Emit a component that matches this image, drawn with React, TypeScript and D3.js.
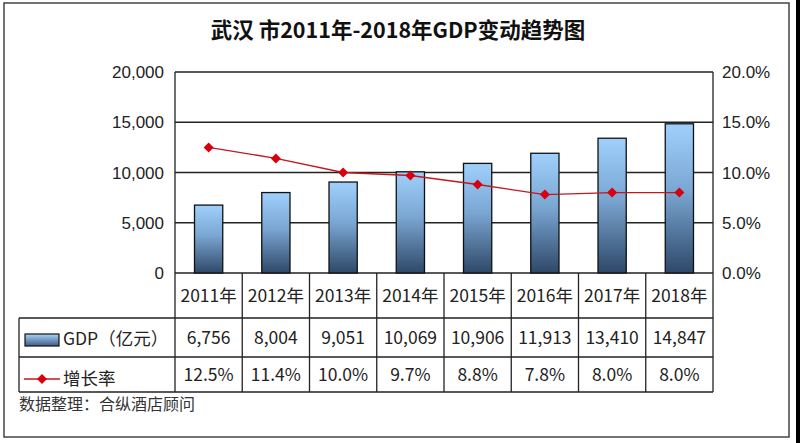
import React from "react";
import * as d3 from "d3";

const years = ["2011年", "2012年", "2013年", "2014年", "2015年", "2016年", "2017年", "2018年"];
const gdp = [6756, 8004, 9051, 10069, 10906, 11913, 13410, 14847];
const growth = [12.5, 11.4, 10.0, 9.7, 8.8, 7.8, 8.0, 8.0];
const leftTicks = [0, 5000, 10000, 15000, 20000];
const rightTicks = [0, 5, 10, 15, 20];
const title = "武汉 市2011年-2018年GDP变动趋势图";
const source = "数据整理：合纵酒店顾问";
const gdpLabel = "GDP（亿元）";
const growthLabel = "增长率";

const W = 800;
const H = 443;
const plotL = 175;
const plotR = 713;
const plotT = 72;
const plotB = 273;
const row1B = 318;
const row2B = 357;
const row3B = 392;
const tableL = 19;

export default function App() {
  const x = d3.scaleBand<string>().domain(years).range([plotL, plotR]).paddingInner(0.58).paddingOuter(0.29);
  const xc = d3.scaleBand<string>().domain(years).range([plotL, plotR]);
  const yL = d3.scaleLinear().domain([0, 20000]).range([plotB, plotT]);
  const yR = d3.scaleLinear().domain([0, 20]).range([plotB, plotT]);
  const fmtN = d3.format(",");
  const line = d3
    .line<number>()
    .x((_, i) => (xc(years[i]) as number) + xc.bandwidth() / 2)
    .y((d) => yR(d));
  const tableFont = "'Noto Sans CJK SC', 'Open Sans', sans-serif";
  const axisFont = "'Liberation Sans', Arial, sans-serif";
  const diamond = (cx: number, cy: number, r: number) =>
    `M${cx},${cy - r}L${cx + r},${cy}L${cx},${cy + r}L${cx - r},${cy}Z`;
  const tfs = 17.5;

  return (
    <svg width={W} height={H} style={{ position: "absolute", left: 0, top: 0, background: "#fff" }}>
      <defs>
        <linearGradient id="barGrad" x1="0" y1="0" x2="0" y2="1">
          <stop offset="0" stopColor="#9fd0fb" />
          <stop offset="0.45" stopColor="#7aa6d2" />
          <stop offset="1" stopColor="#2e4868" />
        </linearGradient>
        <linearGradient id="legGrad" x1="0" y1="0" x2="0" y2="1">
          <stop offset="0" stopColor="#a9d3fb" />
          <stop offset="1" stopColor="#3d5d85" />
        </linearGradient>
      </defs>
      <rect x={0} y={0} width={W} height={H} fill="#fff" />
      <rect x={4} y={3} width={785} height={434} fill="#fff" stroke="#444" strokeWidth={1.5} />
      <rect x={796} y={0} width={4} height={H} fill="#000" />

      <text x={398} y={38} textAnchor="middle" fontFamily={tableFont} fontWeight="bold" fontSize={21.5} fill="#111">
        {title}
      </text>

      {/* gridlines */}
      {leftTicks.map((t) => (
        <line key={t} x1={plotL} x2={plotR} y1={yL(t)} y2={yL(t)} stroke="#222" strokeWidth={1.3} />
      ))}
      <line x1={plotL} x2={plotL} y1={plotT} y2={plotB} stroke="#222" strokeWidth={1.3} />
      <line x1={plotR} x2={plotR} y1={plotT} y2={plotB} stroke="#222" strokeWidth={1.3} />

      {/* axis labels */}
      {leftTicks.map((t) => (
        <text key={t} x={164} y={yL(t) + 6} textAnchor="end" fontFamily={axisFont} fontSize={17} fill="#222">
          {fmtN(t)}
        </text>
      ))}
      {rightTicks.map((t) => (
        <text key={t} x={722} y={yR(t) + 6} textAnchor="start" fontFamily={axisFont} fontSize={17} fill="#222">
          {t.toFixed(1) + "%"}
        </text>
      ))}

      {/* bars */}
      {gdp.map((v, i) => (
        <rect
          key={i}
          x={x(years[i])}
          y={yL(v)}
          width={x.bandwidth()}
          height={plotB - yL(v)}
          fill="url(#barGrad)"
          stroke="#111"
          strokeWidth={1.3}
        />
      ))}

      {/* growth line */}
      <path d={line(growth) || ""} fill="none" stroke="#c01820" strokeWidth={1.4} />
      {growth.map((g, i) => (
        <path key={i} d={diamond((xc(years[i]) as number) + xc.bandwidth() / 2, yR(g), 5)} fill="#d8000f" />
      ))}

      {/* table */}
      <line x1={plotL} x2={plotL} y1={plotB} y2={row3B} stroke="#222" strokeWidth={1.3} />
      <line x1={tableL} x2={plotR} y1={row1B} y2={row1B} stroke="#222" strokeWidth={1.3} />
      <line x1={tableL} x2={plotR} y1={row2B} y2={row2B} stroke="#222" strokeWidth={1.3} />
      <line x1={tableL} x2={plotR} y1={row3B} y2={row3B} stroke="#222" strokeWidth={1.3} />
      <line x1={tableL} x2={tableL} y1={row1B} y2={row3B} stroke="#222" strokeWidth={1.3} />
      {years.map((yr) => (
        <line
          key={yr}
          x1={(xc(yr) as number) + xc.bandwidth()}
          x2={(xc(yr) as number) + xc.bandwidth()}
          y1={plotB}
          y2={row3B}
          stroke="#222"
          strokeWidth={1.3}
        />
      ))}
      {years.map((yr) => (
        <text
          key={yr}
          x={(xc(yr) as number) + xc.bandwidth() / 2}
          y={(plotB + row1B) / 2 + 6.5}
          textAnchor="middle"
          fontFamily={tableFont}
          fontSize={tfs}
          fill="#222"
        >
          {yr}
        </text>
      ))}
      {gdp.map((v, i) => (
        <text
          key={i}
          x={(xc(years[i]) as number) + xc.bandwidth() / 2}
          y={(row1B + row2B) / 2 + 6.5}
          textAnchor="middle"
          fontFamily={tableFont}
          fontSize={tfs}
          fill="#222"
        >
          {fmtN(v)}
        </text>
      ))}
      {growth.map((g, i) => (
        <text
          key={i}
          x={(xc(years[i]) as number) + xc.bandwidth() / 2}
          y={(row2B + row3B) / 2 + 6.5}
          textAnchor="middle"
          fontFamily={tableFont}
          fontSize={tfs}
          fill="#222"
        >
          {g.toFixed(1) + "%"}
        </text>
      ))}

      {/* legend in table */}
      <rect x={25} y={334} width={34} height={12} fill="url(#legGrad)" stroke="#111" strokeWidth={1.2} />
      <text x={63} y={345} fontFamily={tableFont} fontSize={tfs} fill="#222">
        {gdpLabel}
      </text>
      <line x1={24} x2={60} y1={379} y2={379} stroke="#c01820" strokeWidth={1.4} />
      <path d={diamond(42, 379, 5)} fill="#d8000f" />
      <text x={63} y={385} fontFamily={tableFont} fontSize={tfs} fill="#222">
        {growthLabel}
      </text>

      <text x={19} y={410} fontFamily={tableFont} fontSize={16} fill="#333">
        {source}
      </text>
    </svg>
  );
}
